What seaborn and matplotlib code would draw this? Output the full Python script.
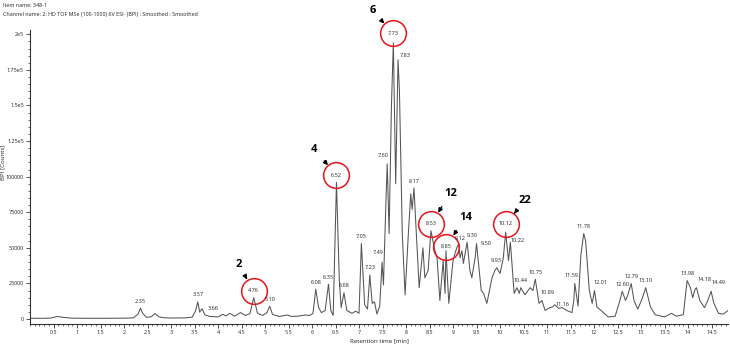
import numpy as np
import pandas as pd
import matplotlib
matplotlib.use("Agg")
import matplotlib.pyplot as plt
import matplotlib.transforms as mtransforms
from matplotlib.ticker import MultipleLocator, FixedLocator
import seaborn as sns

# ---- data ----
rt_min = [0.00, 0.30, 0.45, 0.58, 0.70, 0.90, 1.20, 1.60, 2.00, 2.20, 2.30, 2.35, 2.40, 2.48, 2.58,
          2.66, 2.74, 2.85, 3.00, 3.30, 3.45, 3.52, 3.57, 3.61, 3.66, 3.72, 3.82, 4.00, 4.10, 4.17,
          4.25, 4.35, 4.48, 4.58, 4.68, 4.76, 4.84, 4.95, 5.04, 5.10, 5.16, 5.30, 5.48, 5.56, 5.70,
          5.85, 5.95, 6.02, 6.08, 6.14, 6.20, 6.28, 6.35, 6.40, 6.45, 6.52, 6.58, 6.62, 6.68, 6.74,
          6.85, 6.93, 7.00, 7.05, 7.12, 7.18, 7.23, 7.28, 7.33, 7.38, 7.44, 7.49, 7.52, 7.57, 7.60,
          7.64, 7.69, 7.73, 7.78, 7.83, 7.86, 7.92, 7.98, 8.05, 8.10, 8.13, 8.17, 8.20, 8.28, 8.36,
          8.40, 8.47, 8.53, 8.60, 8.66, 8.72, 8.79, 8.83, 8.85, 8.91, 9.00, 9.04, 9.08, 9.12, 9.15,
          9.19, 9.22, 9.30, 9.36, 9.40, 9.47, 9.50, 9.60, 9.65, 9.72, 9.83, 9.89, 9.93, 10.00, 10.07,
          10.12, 10.18, 10.22, 10.30, 10.36, 10.41, 10.44, 10.53, 10.64, 10.70, 10.75, 10.83, 10.89,
          10.96, 11.06, 11.12, 11.16, 11.25, 11.32, 11.42, 11.53, 11.57, 11.59, 11.66, 11.72, 11.78,
          11.82, 11.90, 11.96, 12.01, 12.06, 12.15, 12.30, 12.45, 12.55, 12.60, 12.67, 12.72, 12.79,
          12.85, 12.93, 13.02, 13.10, 13.20, 13.30, 13.50, 13.65, 13.75, 13.90, 13.98, 14.05, 14.10,
          14.15, 14.18, 14.25, 14.35, 14.42, 14.49, 14.55, 14.65, 14.75, 14.85]
bpi_counts = [500, 500, 700, 1800, 1200, 600, 500, 500, 600, 800, 3500, 7700, 3800, 1200, 1600,
              3800, 1600, 900, 700, 800, 1300, 5500, 12000, 4800, 7200, 3000, 1800, 1500, 3300, 2200,
              4000, 2000, 4500, 2500, 3800, 15000, 4000, 2500, 4500, 9000, 3200, 1800, 2800, 1800, 2000,
              2800, 2500, 4000, 21000, 8000, 4500, 6000, 24500, 6000, 2500, 96000, 28000, 8000, 18500, 6000,
              4000, 5500, 4000, 53000, 10000, 7000, 31000, 11000, 12000, 3500, 9000, 40000, 24000, 80000, 109000,
              60000, 150000, 194000, 95000, 182000, 160000, 60000, 17000, 60000, 88000, 77000, 92000, 72000, 22000, 50000,
              29000, 34000, 62000, 50000, 43000, 13000, 41000, 18000, 48000, 11000, 41000, 46000, 50000, 53000, 43000,
              48000, 39000, 54000, 34000, 29000, 43000, 53000, 20000, 18000, 11000, 29000, 34000, 36000, 32000, 43000,
              61000, 41000, 54000, 18000, 22000, 18000, 22000, 17000, 22000, 20000, 28000, 11000, 13000,
              6000, 8000, 8500, 10000, 7500, 8000, 6000, 4500, 13000, 25000, 9000, 45000, 60000,
              55000, 20000, 11000, 20000, 8500, 6000, 1500, 2000, 13000, 19500, 13000, 17000, 25000,
              13000, 7000, 14000, 22000, 8500, 3000, 1500, 4000, 2000, 3000, 27000, 22000, 15000,
              21000, 22000, 13000, 8000, 13000, 19500, 11000, 4000, 3500, 6000]

peak_labels = ["2.35", "3.57", "3.66", "4.76", "5.10", "6.08", "6.35", "6.52", "6.68", "7.05", "7.23",
               "7.49", "7.60", "7.73", "7.83", "8.17", "8.53", "8.85", "9.12", "9.30", "9.50", "9.93",
               "10.12", "10.22", "10.44", "10.75", "10.89", "11.16", "11.59", "11.78", "12.01", "12.60",
               "12.79", "13.10", "13.98", "14.18", "14.49"]
circled_labels = ["4.76", "6.52", "7.73", "8.53", "8.85", "10.12"]
compound_ids = ["2", "4", "6", "12", "14", "22"]

ytick_values = [0, 25000, 50000, 75000, 100000, 125000, 150000, 175000, 200000]
ytick_labels = ["0", "25000", "50000", "75000", "100000", "1.25e5", "1.5e5", "1.75e5", "2e5"]
xtick_values = [0.5 * k for k in range(1, 30)]
xtick_labels = [("%g" % v) for v in xtick_values]

# ---- style ----
FONT = ["Open Sans", "DejaVu Sans"]
line_color = "#555555"
label_offsets = {  # (dx, dy) in points relative to the peak apex
    "3.66": (8, 0), "7.49": (-3, 7), "7.60": (-3, 6), "7.83": (5, 3), "9.12": (1, 4), "9.30": (4, 5),
    "9.50": (7, 0), "10.22": (5, 1), "10.89": (4, 6), "11.16": (6, 0), "12.01": (4, 6),
    "14.18": (6, 6), "14.49": (5, 6), "11.59": (-2, 6), "4.76": (0, 5), "6.52": (0, 5),
    "7.73": (0, 7), "8.53": (0, 5), "8.85": (0, 3), "10.12": (0, 6),
}
id_offsets = {"2": (-11, 19), "4": (-16, 19), "6": (-15, 16), "12": (14, 22), "14": (14, 21), "22": (14, 17)}

sns.set_style("ticks")
plt.rcParams["font.family"] = FONT

fig = plt.figure(figsize=(7.30, 3.45), dpi=100)
ax = fig.add_axes([30 / 730, 1 - 324 / 345, 698 / 730, 294 / 345])

df = pd.DataFrame({"rt": rt_min, "bpi": bpi_counts})
sns.lineplot(data=df, x="rt", y="bpi", ax=ax, color=line_color, lw=0.75, estimator=None, sort=False)

ax.set_xlim(0, 14.85)
ax.set_ylim(-3500, 203000)

for s in ["top", "right"]:
    ax.spines[s].set_visible(False)
for s in ["left", "bottom"]:
    ax.spines[s].set_color("#333333")
    ax.spines[s].set_linewidth(0.8)

ax.yaxis.set_major_locator(FixedLocator(ytick_values))
ax.set_yticklabels(ytick_labels)
ax.yaxis.set_minor_locator(MultipleLocator(5000))
ax.xaxis.set_major_locator(FixedLocator(xtick_values))
ax.set_xticklabels(xtick_labels)
ax.xaxis.set_minor_locator(MultipleLocator(0.1))
ax.tick_params(which="major", length=3, width=0.6, color="#333333", labelsize=3.9, pad=1.5,
               labelcolor="#222222")
ax.tick_params(which="minor", length=1.5, width=0.5, color="#333333")

ax.set_xlabel("Retention time [min]", fontsize=4.4, labelpad=2, color="#222222")
ax.set_ylabel("BPI [Counts]", fontsize=4.4, color="#222222")
ax.yaxis.set_label_coords(-0.036, 0.55)

fig.text(0.004, 0.992, "Item name: 348-1", fontsize=3.9, va="top", ha="left", color="#222222")
fig.text(0.004, 0.965, "Channel name: 2: HD TOF MSe (100-1000) 6V ESI- (BPI) : Smoothed : Smoothed",
         fontsize=3.9, va="top", ha="left", color="#222222")

# peak labels
label_pos = {}
for lab in peak_labels:
    t = float(lab)
    y = float(np.interp(t, rt_min, bpi_counts))
    dx, dy = label_offsets.get(lab, (0, 5))
    tr = mtransforms.offset_copy(ax.transData, fig=fig, x=dx, y=dy, units="points")
    ax.text(t, y, lab, transform=tr, fontsize=4.0, ha="center", va="center", color="#222222", clip_on=False)
    label_pos[lab] = (t, y, tr)

# red circles and compound numbers with arrows
for lab, cid in zip(circled_labels, compound_ids):
    t, y, tr = label_pos[lab]
    ax.plot([t], [y], transform=tr, marker="o", ms=18.5, mfc="none", mec="#e8141b", mew=1.1, clip_on=False)
    ox, oy = id_offsets[cid]
    ax.annotate(cid, xy=(t, y), xycoords=tr, xytext=(ox, oy), textcoords="offset points",
                fontsize=8, fontweight="bold", ha="center", va="center", color="black",
                annotation_clip=False,
                arrowprops=dict(arrowstyle="-|>", color="black", lw=1.0, shrinkA=4, shrinkB=9.5,
                                mutation_scale=6))

fig.savefig("out.png", dpi=100)
